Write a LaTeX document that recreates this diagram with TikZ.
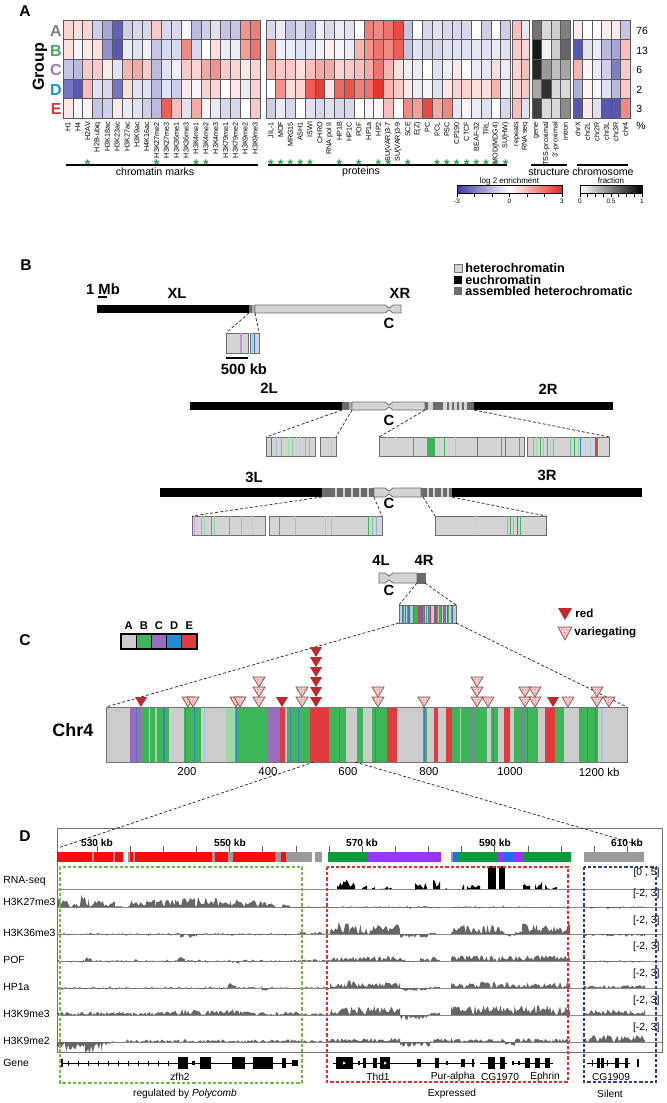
\documentclass[tikz,border=0pt]{standalone}
\usepackage{fontspec}
\setmainfont{Liberation Sans}
\usetikzlibrary{patterns.meta}
\newcommand\fsz[1]{\fontsize{#1}{#1}\selectfont}
\definecolor{hmblue}{HTML}{3A3BA3}
\definecolor{hmred}{HTML}{E6281E}
\definecolor{hmedge}{HTML}{5A5A5A}
\definecolor{gA}{HTML}{7F7F7F}
\definecolor{gB}{HTML}{45A85A}
\definecolor{gC}{HTML}{9C7BBF}
\definecolor{gD}{HTML}{1E90D5}
\definecolor{gE}{HTML}{D9383A}
\definecolor{stargreen}{HTML}{2E9E4F}
\definecolor{hetg}{HTML}{D4D4D4}
\definecolor{hetE}{HTML}{6E6E6E}
\definecolor{asmgrey}{HTML}{6B6B6B}
\definecolor{cgry}{HTML}{CCCCCC}
\definecolor{cgrn}{HTML}{3DB65A}
\definecolor{cgrnL}{HTML}{9FD8A8}
\definecolor{cpur}{HTML}{9B6CBE}
\definecolor{cblu}{HTML}{3A7FC6}
\definecolor{cbluL}{HTML}{9EC4E6}
\definecolor{cred}{HTML}{E23B3F}
\definecolor{legD}{HTML}{1E8FD5}
\definecolor{tred}{HTML}{C1272D}
\definecolor{vpink}{HTML}{F6CACA}
\definecolor{vdot}{HTML}{D9474A}
\definecolor{vedge}{HTML}{7A5A5A}
\definecolor{dred}{HTML}{FF0A0A}
\definecolor{dgrn}{HTML}{0F9A3A}
\definecolor{dpur}{HTML}{9933FF}
\definecolor{dblu}{HTML}{1F6FFF}
\definecolor{dgry}{HTML}{9A9A9A}
\definecolor{sigc}{HTML}{666666}
\definecolor{boxG}{HTML}{6DBE45}
\definecolor{boxR}{HTML}{E0312F}
\definecolor{boxB}{HTML}{2E3F8F}
\tikzset{
 plab/.style={font=\fsz{7.8}\bfseries, inner sep=0pt},
 collab/.style={rotate=90, anchor=east, font=\fsz{3.6}, inner sep=0.3pt},
 grp/.style={font=\fsz{8}\bfseries, anchor=east, inner sep=0pt},
 pct/.style={font=\fsz{5.2}, anchor=west, inner sep=0pt},
 star/.style={text=stargreen, font=\fsz{7}\bfseries, inner sep=0pt, anchor=base},
 sect/.style={font=\fsz{5.3}, inner sep=0pt},
 cbl/.style={font=\fsz{3.2}, inner sep=0pt},
 cbt/.style={font=\fsz{4}, inner sep=0pt},
 chrlab/.style={font=\fsz{7.4}\bfseries, inner sep=0pt},
 legB/.style={font=\fsz{6.3}\bfseries, anchor=west, inner sep=0pt},
 zoomline/.style={dash pattern=on 1.5pt off 1pt, line width=0.35pt, black!85},
 hetbox/.style={fill=hetg, draw=hetE, line width=0.4pt},
 trk/.style={font=\fsz{5.2}, anchor=west, inner sep=0pt},
 rng/.style={font=\fsz{5.2}, anchor=east, inner sep=0pt},
 kbl/.style={font=\fsz{5.1}\bfseries, inner sep=0pt},
 gname/.style={font=\fsz{5.1}, inner sep=0pt},
 dbox/.style={dash pattern=on 1.6pt off 1pt, line width=0.6pt},
 exon/.style={fill=black},
}
\newcommand\hmblock[3]{%
 \foreach \rowlist [count=\hr from 0] in {#3} {%
  \foreach \v [count=\hc from 0] in \rowlist {%
   \ifnum\v<0 \colorlet{cc}{hmblue!\the\numexpr0-\v\relax!white}\else\colorlet{cc}{hmred!\v!white}\fi
   \path[fill=cc,draw=hmedge,line width=0.3pt] ({#1+\hc*#2},{20+\hr*19.6}) rectangle ++(#2,19.6);
  }}}
\newcommand\hmblockG[3]{%
 \foreach \rowlist [count=\hr from 0] in {#3} {%
  \foreach \v [count=\hc from 0] in \rowlist {%
   \colorlet{cc}{black!\v!white}
   \path[fill=cc,draw=hmedge,line width=0.3pt] ({#1+\hc*#2},{20+\hr*19.6}) rectangle ++(#2,19.6);
  }}}
\newcommand\hetnotch[5]{%
 \path[hetbox] (#1,#4) -- ({#3-4},#4) -- (#3,{#4+3}) -- ({#3+4},#4) -- (#2,#4) -- (#2,#5) -- ({#3+4},#5) -- (#3,{#5-3}) -- ({#3-4},#5) -- (#1,#5) -- cycle;}
\newcommand\chrsegs[4]{%
 \foreach \sa/\sb/\sc in {47/67/cpur,57/60/cblu,67/120/cgrn,82/84/cgrnL,95/97/cgrnL,110/114/cblu,149/182/cgrn,152/154/cblu,169/171/cblu,188/190/cbluL,231/248/cgrnL,248/309/cgrn,249/252/cblu,309/334/cpur,334/344/cred,348/391/cgrn,353/355/cblu,369/371/cblu,391/428/cred,428/461/cgrn,439/442/cpur,447/450/cblu,481/493/cgrn,510/539/cgrn,517/519/cblu,539/559/cred,608/616/cgrn,611/613/cblu,629/637/cred,653/664/cred,664/731/cgrn,680/682/cgrnL,700/704/cpur,739/752/cgrn,742/745/cblu,764/776/cred,784/830/cgrn,797/800/cpur,808/810/cblu,842/862/cred,862/879/cgrn,907/944/cgrn,923/925/cblu,939/941/cblu,951/954/cbluL}
 {\fill[\sc] ({#1+\sa/1000*#2},#3) rectangle ({#1+\sb/1000*#2},#4);}}
\newcommand\rtri[2]{\fill[tred] ({#1-6},#2) -- ({#1+6},#2) -- (#1,{#2+10}) -- cycle;}
\newcommand\vtri[2]{%
 \fill[vpink] ({#1-6},#2) -- ({#1+6},#2) -- (#1,{#2+10}) -- cycle;
 \fill[pattern={Dots[distance=1.3pt,radius=0.22pt]}, pattern color=vdot] ({#1-6},#2) -- ({#1+6},#2) -- (#1,{#2+10}) -- cycle;
 \draw[vedge,line width=0.35pt] ({#1-6},#2) -- ({#1+6},#2) -- (#1,{#2+10}) -- cycle;}
\newcommand\sigseg[6]{%
 \pgfmathtruncatemacro\ns{max(3,(#3-#2)/1.4)}%
 \fill[#6] (#2,#1) -- plot[domain=#2:#3, samples=\ns, variable=\t] (\t,{#1-(#4)*rnd+(#5)*rnd}) -- (#3,#1) -- cycle;}
\begin{document}
\begin{tikzpicture}[x=0.5pt,y=-0.5pt]
\pgfmathsetseed{11}
\useasboundingbox (0,0) rectangle (666,1103);
\fill[white] (0,0) rectangle (666,1103);
% ================= Panel A =================
\node[plab] (labA) at (25,11) {A};
\node[rotate=90, font=\fsz{8}\bfseries, inner sep=0pt] (grpw) at (40,67) {Group};
\node[grp,text=gA] (ga) at (62,31) {A};
\node[grp,text=gB] (gb) at (62,50.5) {B};
\node[grp,text=gC] (gc) at (62,70) {C};
\node[grp,text=gD] (gd) at (62,89.5) {D};
\node[grp,text=gE] (ge) at (62,109) {E};
\hmblock{63}{9.85}{{20,15,20,-25,-45,-80,-25,-20,-20,25,-20,-20,-5,-35,-25,-15,-30,-30,50,60},{15,-5,10,15,-55,-85,-10,-15,-8,-30,-20,-20,55,-20,0,15,-10,-10,45,65},{-30,-35,25,25,10,-15,35,40,25,-35,-15,-8,25,20,40,50,25,20,10,20},{-70,-85,30,-15,-20,-70,15,-15,-15,-35,-15,-25,10,-5,20,20,0,10,-10,20},{12,-5,5,-30,-25,10,-10,-15,-25,-35,75,30,-15,40,5,-10,-20,-20,0,25}}
\hmblock{266}{9.78}{{-20,-10,-30,-20,-35,-8,-20,-10,-15,0,60,55,65,85,-30,0,-20,-15,-20,-20,-20,0,-25,0,-25},{45,-8,-10,-15,-15,-8,8,-5,-10,35,50,65,55,75,-30,-15,-20,-20,-15,-15,-15,-12,-15,-10,-15},{35,25,25,15,30,40,40,20,25,30,40,65,35,15,-8,-10,0,-15,-8,10,0,-10,-12,15,-10},{2,50,15,20,75,90,12,70,80,60,65,95,35,25,10,-10,-5,-15,12,20,20,15,15,35,-10},{-25,-10,-20,0,-15,-20,-15,-20,-20,0,5,5,30,2,55,45,85,40,55,-12,5,-10,-15,0,-20}}
\hmblock{512.5}{8.5}{{30,-12},{25,20},{20,30},{20,25},{30,-15}}
\hmblockG{532}{9.5}{{55,15,20,50},{90,5,20,60},{85,40,25,35},{35,80,15,15},{75,15,15,45}}
\hmblock{573}{9.5}{{10,0,0,8,10,-30},{-85,-15,-10,-35,-45,30},{35,5,-10,-25,-65,25},{-40,5,-5,-15,-35,25},{-85,10,-15,-85,-85,55}}
\foreach \bx/\by in {63/260,266/510.5,512.5/529.5,532/570,573/630} \draw[hmedge,line width=0.5pt] (\bx,20) rectangle (\by,118);
\foreach \lab [count=\hc from 0] in {H1,H4,H2AV,H2B-ubiq,H3K18ac,H3K23ac,H3K27ac,H3K9ac,H4K16ac,H3K27me2,H3K27me3,H3K36me1,H3K36me3,H3K4me1,H3K4me2,H3K4me3,H3K79me1,H3K79me2,H3K9me2,H3K9me3}
  \node[collab] at ({63+(\hc+0.5)*9.85},121) {\lab};
\foreach \lab [count=\hc from 0] in {JIL-1,MOF,MRG15,ASH1,ISWI,CHRO,RNA pol II,HP1B,HP1C,POF,HP1a,HP2,SU(VAR)3-7,SU(VAR)3-9,SCE,E(Z),PC,PCL,PSC,CP190,CTCF,BEAF-32,TRL,MOD(MDG4),SU(HW)}
  \node[collab] at ({266+(\hc+0.5)*9.78},121) {\lab};
\foreach \lab [count=\hc from 0] in {repeats,RNA seq}
  \node[collab] at ({512.5+(\hc+0.5)*8.5},121) {\lab};
\foreach \lab [count=\hc from 0] in {gene,TSS-proximal,3'-proximal,intron}
  \node[collab] at ({532+(\hc+0.5)*9.5},121) {\lab};
\foreach \lab [count=\hc from 0] in {chrX,chr2L,chr2R,chr3L,chr3R,chr4}
  \node[collab] at ({573+(\hc+0.5)*9.5},121) {\lab};
\foreach \nn/\ny in {76/31,13/50.5,6/70,2/89.5,3/109} \node[pct] at (636,\ny) {\nn};
\node[pct] (pcts) at (636,126) {\%};
% stars
\foreach \hc in {2,9,13,14} \node[star] at ({63+(\hc+0.5)*9.85},169) {*};
\foreach \hc in {0,1,2,3,4,7,9,11,12,14,17,18,19,20,21,22,23,24} \node[star] at ({266+(\hc+0.5)*9.78},169) {*};
% group lines
\draw[line width=0.75pt] (66,165) coordinate (cm1) -- (258,165) coordinate (cm2);
\draw[line width=0.75pt] (268,165) coordinate (pr1) -- (507,165) coordinate (pr2);
\draw[line width=0.75pt] (531,165) coordinate (st1) -- (567,165) coordinate (st2);
\draw[line width=0.75pt] (577,165) coordinate (ch1) -- (628,165) coordinate (ch2);
\node[sect] (tcm) at (155,172) {chromatin marks};
\node[sect] (tpr) at (361,172) {proteins};
\node[sect] (tst) at (549,172) {structure};
\node[sect] (tch) at (603,172) {chromosome};
% colour bars
\node[cbt] (tlog) at (509.5,181) {log 2 enrichment};
\shade[left color=hmblue, right color=white] (457,185) rectangle (509.5,193);
\shade[left color=white, right color=hmred] (509.5,185) rectangle (562,193);
\draw[line width=0.35pt] (457,185) rectangle (562,193);
\foreach \k in {0,...,6} \draw[line width=0.3pt] ({457+\k*17.5},193) -- ({457+\k*17.5},196.5);
\node[cbl] at (457,201.5) {-3};
\node[cbl] at (509.5,201.5) {0};
\node[cbl] at (562,201.5) {3};
\node[cbt] (tfrac) at (611,181) {fraction};
\shade[left color=white, right color=black] (580,185) rectangle (642,193);
\draw[line width=0.35pt] (580,185) rectangle (642,193);
\foreach \k in {0,...,8} \draw[line width=0.3pt] ({580+\k*7.75},193) -- ({580+\k*7.75},196.5);
\node[cbl] at (580,201.5) {0};
\node[cbl] at (611,201.5) {0.5};
\node[cbl] at (642,201.5) {1};
% ================= Panel B =================
\node[plab] (labB) at (26,265) {B};
\node[legB] (l1) at (465,268) {heterochromatin};
\node[legB] (l2) at (465,279.5) {euchromatin};
\node[legB] (l3) at (465,291) {assembled heterochromatic};
\path[hetbox] (454,264) rectangle (462,272);
\path[fill=black] (454,275.5) rectangle (462,283.5);
\path[fill=asmgrey] (454,287) rectangle (462,295);
% X chromosome
\node[chrlab] (t1mb) at (103,289) {1 Mb};
\draw[line width=1pt] (98,297) -- (107,297);
\node[chrlab] (tXL) at (177,293) {XL};
\node[chrlab] (tXR) at (400,293) {XR};
\fill[black] (97,305) rectangle (249,313);
\fill[asmgrey] (249,305) rectangle (252,313);
\fill[hetg!60!asmgrey] (252,305) rectangle (255,313);
\hetnotch{255}{401}{389}{305}{313}
\node[chrlab] (cX) at (389,323) {C};
\path[hetbox] (226,333) rectangle (248,353);
\path[hetbox] (250,333) rectangle (259,353);
\draw[cpur!70,line width=0.7pt] (241,333.4) -- (241,352.6);
\draw[cbluL,line width=0.6pt] (252.3,333.4) -- (252.3,352.6);
\draw[cblu,line width=0.7pt] (254.5,333.4) -- (254.5,352.6);
\coordinate (xa) at (249,313); \coordinate (xb) at (255,313);
\coordinate (xa2) at (226,333); \coordinate (xb2) at (259,333);
\draw[zoomline] (xa) -- (xa2); \draw[zoomline] (xb) -- (xb2);
\draw[line width=1pt] (226,358) -- (248,358);
\node[chrlab] (t500) at (244,369) {500 kb};
% 2L / 2R
\node[chrlab] (t2L) at (269,388) {2L};
\node[chrlab] (t2R) at (548,389) {2R};
\fill[black] (190,402) rectangle (342,410);
\fill[asmgrey] (342,402) rectangle (349,410);
\fill[hetg!60!asmgrey] (349,402) rectangle (352,410);
\hetnotch{352}{425}{389}{402}{410}
\fill[asmgrey] (425,402) rectangle (443,410);
\fill[hetg] (428,402) rectangle (433,410);
\fill[hetg] (443,402) rectangle (467,410);
\foreach \sx in {447,452,457,462} \fill[asmgrey] (\sx,402) rectangle ({\sx+1.6},410);
\fill[asmgrey] (467,402) rectangle (474,410);
\fill[black] (474,402) rectangle (613,410);
\node[chrlab] (c2) at (389,420) {C};
\path[hetbox] (266,437) rectangle (315,456);
\path[hetbox] (320,437) rectangle (336,456);
\path[hetbox] (379,437) rectangle (524,456);
\path[hetbox] (527,437) rectangle (609,456);
\foreach \lx/\lc in {271/cred,276/cblu!50,281/cblu!60,288/cgrn!50,292/cgrn!60,296/cgrn!40,300/cpur!40,305/cgrn!70,309/cblu!60,331/cred!40,387/cblu!30,395/cblu!30,413/cgrn,444/cgrn,455/cgrn!50,477/cblu,501/cgrn,505/cblu,519/cgrn,533/cgrn!70,536/cgrn!50,540/cgrn,543/cgrn!60,547/cgrn,550/cgrn!50,553/cblu!60,570/cgrn!70,574/cgrn,578/cgrn!60,580/cblu,590/cblu!40}
  \draw[\lc,line width=0.5pt] (\lx,437.4) -- (\lx,455.6);
\fill[cgrn] (427,437.4) rectangle (435,455.6);
\fill[cred!70!black!80] (595,437.4) rectangle (598,455.6);
\coordinate (a1) at (342,410); \coordinate (a2) at (266,437);
\coordinate (b1) at (352,410); \coordinate (b2) at (336,437);
\coordinate (c1) at (425,410); \coordinate (c2p) at (379,437);
\coordinate (d1) at (474,410); \coordinate (d2) at (609,437);
\draw[zoomline] (a1) -- (a2); \draw[zoomline] (b1) -- (b2);
\draw[zoomline] (c1) -- (c2p); \draw[zoomline] (d1) -- (d2);
% 3L / 3R
\node[chrlab] (t3L) at (254,477) {3L};
\node[chrlab] (t3R) at (547,475) {3R};
\fill[black] (160,488) rectangle (322,497);
\fill[asmgrey] (322,488) rectangle (374,497);
\foreach \sx in {335,343,351,359,367} \fill[hetg] (\sx,488) rectangle ({\sx+2.2},497);
\hetnotch{374}{421}{389}{488}{497}
\fill[asmgrey] (421,488) rectangle (452,497);
\foreach \sx in {427,433,441,447} \fill[hetg] (\sx,488) rectangle ({\sx+2.4},497);
\fill[black] (452,488) rectangle (642,497);
\node[chrlab] (c3) at (389,503) {C};
\path[hetbox] (192,516) rectangle (265,535);
\path[hetbox] (269,516) rectangle (382,535);
\path[hetbox] (435,516) rectangle (546,535);
\foreach \lx/\lc in {194/cpur!60,201/cgrn!70,204/cgrn!50,211/cgrn,214/cgrn!60,229/cblu!70,241/cgrn!60,252/black!20,279/cred!80,295/cblu!50,325/cgrn!50,331/cgrn!60,368/cgrn,372/cgrn!70,376/cblu!60,475/cgrn!40,507/cgrn!70,510/cgrn,513/cblu!60,517/cblu,520/cgrn}
  \draw[\lc,line width=0.5pt] (\lx,516.4) -- (\lx,534.6);
\coordinate (e1) at (322,497); \coordinate (e2) at (192,516);
\coordinate (f1) at (374,497); \coordinate (f2) at (382,516);
\coordinate (g1) at (423,497); \coordinate (g2) at (435,516);
\coordinate (h1) at (452,497); \coordinate (h2) at (546,516);
\draw[zoomline] (e1) -- (e2); \draw[zoomline] (f1) -- (f2);
\draw[zoomline] (g1) -- (g2); \draw[zoomline] (h1) -- (h2);
% chr 4
\node[chrlab] (t4L) at (381,560) {4L};
\node[chrlab] (t4R) at (424,560) {4R};
\hetnotch{379}{417}{389}{573}{583}
\path[fill=asmgrey,draw=hetE,line width=0.4pt] (417,573) rectangle (425,583);
\node[chrlab] (c4) at (389,590) {C};
\fill[cgry] (399,605) rectangle (456,623);
\chrsegs{399}{57}{605}{623}
\draw[hetE,line width=0.4pt] (399,605) rectangle (456,623);
\coordinate (i1) at (417,583); \coordinate (i2) at (399,605);
\coordinate (j1) at (425,583); \coordinate (j2) at (456,605);
\draw[zoomline] (i1) -- (i2); \draw[zoomline] (j1) -- (j2);
% ================= Panel C =================
\node[plab] (labC) at (25,640) {C};
\foreach \lc/\lt [count=\hc from 0] in {cgry/A,cgrn/B,cpur/C,legD/D,cred/E} {
  \fill[\lc] ({121+\hc*15.2},634) rectangle ++(15.2,15);
  \draw[line width=0.5pt] ({121+\hc*15.2},634) rectangle ++(15.2,15);
  \node[font=\fsz{5.6}\bfseries, inner sep=0pt] at ({128.6+\hc*15.2},626) {\lt};
}
\draw[line width=0.8pt] (121,634) rectangle (197,649);
% legend of triangles
\fill[tred] (558,608) -- (572,608) -- (565,620) -- cycle;
\node[font=\fsz{5.8}\bfseries, anchor=west, inner sep=0pt] (tred1) at (575,613) {red};
\fill[vpink] (558,627) -- (572,627) -- (565,640) -- cycle;
\fill[pattern={Dots[distance=1.3pt,radius=0.22pt]}, pattern color=vdot] (558,627) -- (572,627) -- (565,640) -- cycle;
\draw[vedge,line width=0.35pt] (558,627) -- (572,627) -- (565,640) -- cycle;
\node[font=\fsz{5.8}\bfseries, anchor=west, inner sep=0pt] (tvar) at (574,633) {variegating};
% Chr4 bar
\node[font=\fsz{9}\bfseries, inner sep=0pt] (tchr4) at (73,730) {Chr4};
\fill[cgry] (106,707) rectangle (627,762);
\chrsegs{106}{521}{707}{762}
\draw[black!55,line width=0.5pt] (106,707) rectangle (627,762);
\coordinate (k1) at (399,623); \coordinate (k2) at (106,707);
\coordinate (m1) at (456,623); \coordinate (m2) at (627,707);
\draw[zoomline] (k1) -- (k2); \draw[zoomline] (m1) -- (m2);
\foreach \tx/\tl in {187/200,268/400,348/600,429/800,510/1000} \node[font=\fsz{5.7}, inner sep=0pt] at (\tx,772) {\tl};
\node[font=\fsz{5.7}, inner sep=0pt, anchor=west] at (578.5,772) {1200 kb};
% triangles
\foreach \tx/\ty in {141/697,282/697,553/697,316/697,316/687,316/677,316/667,316/657,316/647} {\rtri{\tx}{\ty}}
\foreach \tx/\ty in {188/697,193/697,236/697,240/697,259/677,259/687,259/697,302/687,302/697,378/687,378/697,424/697,477/677,477/687,477/697,488/697,525/687,525/697,535/687,535/697,568/697,597/687,597/697,609/697} {\vtri{\tx}{\ty}}
% ================= Panel D =================
\node[plab] (labD) at (25,836) {D};
\coordinate (n1) at (314,762); \coordinate (n2) at (58,848);
\coordinate (o1) at (355,762); \coordinate (o2) at (643,846);
\draw[black!55,line width=0.5pt] (57,828) rectangle (662,1052);
\foreach \by in {889,907,934,961,988,1015,1042} \draw[black!45,line width=0.5pt] (57,\by) -- (662,\by);
\foreach \kk in {0,...,16} \draw[black!60,line width=0.35pt] ({97+\kk*33.15},846) -- ({97+\kk*33.15},851.5);
\foreach \kx/\kl in {97/530,230/550,362/570,495/590,627/610} \node[kbl] at (\kx,843) {\kl\ kb};
\foreach \sa/\sb/\sc in {57/92/dred,92/94/dgry,94/113/dred,113/115/dgry,115/123/dred,128/130/dgry,130/133/dred,133/135/dgry,135/212/dred,212/215/dgry,215/228/dred,228/233/dgry,233/275/dred,275/281/dgry,281/286/dred,286/312/dgry,315/322/dgry,328/367/dgrn,367/441/dpur,451/453/dgry,453/458/dblu,458/498/dgrn,498/504/dpur,504/514/dblu,514/524/dpur,524/571/dgrn,584/644/dgry}
  {\fill[\sc] (\sa,852) rectangle (\sb,862);}
\draw[zoomline] (n1) -- (n2); \draw[zoomline] (o1) -- (o2);
% track labels
\node[trk] at (3,881) {RNA-seq};
\node[trk] at (3,902) {H3K27me3};
\node[trk] at (3,933) {H3K36me3};
\node[trk] at (3,960) {POF};
\node[trk] at (3,987) {HP1a};
\node[trk] at (3,1014) {H3K9me3};
\node[trk] at (3,1041) {H3K9me2};
\node[trk] at (3,1063) {Gene};
\node[rng] at (660,873) {[0 , 5]};
\foreach \ry in {894,921,947,974,1001,1028} \node[rng] at (660,\ry) {[-2, 3]};
% signals
\foreach \sa/\sb/\su/\sd in {337/355/10/0,362/367/4/0,372/375/4/0,380/392/3/0,415/427/6/0,433/440/10/0,445/447/1/0,462/464/5/0,467/480/4/0,523/530/6/0,535/542/8/0,545/550/5/0,552/557/3/0}
  {\sigseg{889}{\sa}{\sb}{\su}{\sd}{black}}
\fill[black] (488,866) rectangle (496,889);
\fill[black] (499,866) rectangle (505,889);
\foreach \sa/\sb/\su/\sd in {57/65/10/0,65/75/11/0,75/88/13/0,88/95/10/0,95/115/7/0,115/122/2/0,128/140/8/0,140/147/9/0,147/155/12/0,155/175/8/0,175/195/10/0,195/215/11/0,215/230/9/0,230/245/8/0,245/262/7/0,262/275/6/0,275/282/1/1,282/290/4/0,290/330/1/1.5,330/440/1.5/2,451/570/1.5/2,584/645/1/2}
  {\sigseg{907}{\sa}{\sb}{\su}{\sd}{sigc}}
\foreach \sa/\sb/\su/\sd in {57/180/1.5/2,180/197/1/5,197/300/1.5/2,300/330/3/1,330/337/8/0,337/350/13/0,350/400/10/0,400/428/0/4,428/440/2/1,451/505/10/0,505/515/0/3,515/522/4/0,522/570/11/0,584/645/0.5/3}
  {\sigseg{934}{\sa}{\sb}{\su}{\sd}{sigc}}
\foreach \sa/\sb/\su/\sd in {57/85/2/2,85/92/5/0,92/175/2/2,175/185/4/0,185/232/2/2,232/242/1/4,242/300/2/2,300/330/2/1,330/405/5/0,405/420/1/1.5,420/440/4/0,451/570/6/0,584/645/1/2}
  {\sigseg{961}{\sa}{\sb}{\su}{\sd}{sigc}}
\foreach \sa/\sb/\su/\sd in {57/228/2/2,228/236/6/0,236/262/2/2,262/270/0/3,270/330/2/1.5,330/345/6/0,345/358/9/0,358/400/6/0,400/430/0/3,430/440/2/0,451/570/6.5/0,584/645/3/0.5}
  {\sigseg{988}{\sa}{\sb}{\su}{\sd}{sigc}}
\foreach \sa/\sb/\su/\sd in {57/175/4/1,175/240/6/0,240/300/4/0.5,300/330/2/0.5,330/400/9/0,400/428/0/5,428/440/3/0,451/570/10/0,584/645/6/0}
  {\sigseg{1015}{\sa}{\sb}{\su}{\sd}{sigc}}
\foreach \sa/\sb/\su/\sd in {57/65/0/6,65/85/0/10,85/102/0/12,102/110/1/4,110/125/1/1,125/300/3/1,300/330/2/1,330/400/4/0.5,400/430/0/6,430/505/4/0.5,505/515/0/5,515/570/4/0.5,584/645/7/0}
  {\sigseg{1042}{\sa}{\sb}{\su}{\sd}{sigc}}
% genes
\draw[line width=0.5pt] (61,1063) -- (298,1063);
\foreach \gx in {68,78,...,170} \draw[line width=0.35pt] (\gx,1060.5) -- (\gx,1065.5);
\foreach \ea/\eb/\eh in {61/63/4,178/188/6,192/195/2,200/211/6,232/245/6,253/273/6,282/286/5,292/298/3}
  {\fill[exon] (\ea,{1063-\eh}) rectangle (\eb,{1063+\eh});}
\draw[line width=0.5pt] (333,1063) -- (475,1063);
\draw[line width=0.5pt] (480,1063) -- (507,1063);
\draw[line width=0.5pt] (512,1063) -- (553,1063);
\draw[line width=0.5pt] (587,1063) -- (630,1063);
\foreach \ea/\eb/\eh in {336/353/6,358/360/2,363/366/5,373/377/5,380/390/6,417/421/4,435/439/5,446/448/2,461/465/4,472/474/4,488/495/6,500/505/6,512/514/2,518/520/2,525/530/5,535/540/5,545/550/5,592/593/3,597/600/5,601/604/5,607/608/3,615/619/5,625/628/5,637/639/4}
  {\fill[exon] (\ea,{1063-\eh}) rectangle (\eb,{1063+\eh});}
\fill[white] (343,1061.5) -- (346,1063) -- (343,1064.5) -- cycle;
\fill[white] (384,1061.5) -- (387,1063) -- (384,1064.5) -- cycle;
\node[gname] at (180,1077) {zfh2};
\node[gname] at (378,1077) {Thd1};
\node[gname] at (453,1077) {Pur-alpha};
\node[gname] at (500,1077) {CG1970};
\node[gname] at (545,1077) {Ephrin};
\node[gname] at (611,1077) {CG1909};
% dashed boxes
\draw[dbox,boxG] (60,867) rectangle (302,1083);
\draw[dbox,boxR] (327,867) rectangle (568,1082);
\draw[dbox,boxB] (584,867) rectangle (656,1082);
\node[gname] (cap1) at (185,1094) {regulated by \textit{Polycomb}};
\node[gname] (cap2) at (452,1094) {Expressed};
\node[gname] (cap3) at (610,1094) {Silent};
\end{tikzpicture}
\end{document}
